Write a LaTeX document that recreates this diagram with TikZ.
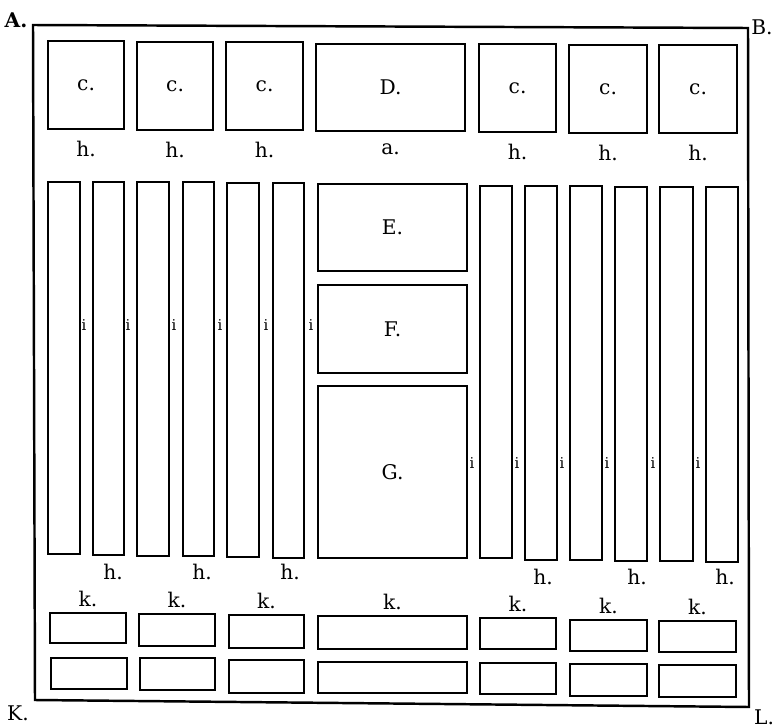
\documentclass[tikz,border=0pt]{standalone}
\usepackage{fontspec}
\setmainfont{DejaVu Serif}
\usepackage{tikz}
\usetikzlibrary{positioning}
\tikzset{
    cell/.style={rectangle, draw, line width=1.2pt, inner sep=0pt,
                 anchor=north west, font=\fontsize{11.5}{13}\selectfont},
    frame/.style={line width=1.4pt, line join=miter},
    lbl/.style={font=\fontsize{11.5}{13}\selectfont, inner sep=0pt},
    ilbl/.style={font=\fontsize{8.5}{10}\selectfont, inner sep=0pt},
}

\begin{document}
\begin{tikzpicture}[x=0.02cm, y=-0.02cm]
    \useasboundingbox (0,0) rectangle (775,727);

    % outer frame
    \coordinate (A) at (33,25);
    \coordinate (B) at (748,28);
    \coordinate (L) at (749,707);
    \coordinate (K) at (35,700);
    \draw[frame] (A) -- (B) -- (L) -- (K) -- cycle;
    \node[lbl, font=\fontsize{11.5}{13}\selectfont\bfseries] (Alab) at (16,20) {A.};
    \node[lbl] (Blab) at (762,27) {B.};
    \node[lbl] (Klab) at (18,713) {K.};
    \node[lbl] (Llab) at (764,717) {L.};

    % top row
    \foreach \n/\xa/\ya/\xb/\yb/\t in {c1/47/40/123/128/c., c2/136/41/212/129/c.,
            c3/225/41/302/129/c., d/315/43/464/130/D., c5/478/43/555/131/c.,
            c6/568/44/646/132/c., c7/658/44/736/132/c.}
        \node[cell, minimum width={(\xb-\xa)*0.02cm},
              minimum height={(\yb-\ya)*0.02cm}] (\n) at (\xa,\ya) {\t};
    \foreach \n/\t in {c1/h., c2/h., c3/h., d/a., c5/h., c6/h., c7/h.}
        \node[lbl, below=0.22cm of \n] (\n lab) {\t};

    % middle row
    \foreach \n/\xa/\ya/\xb/\yb/\t in {l1/47/181/79/553/, l2/92/181/123/554/,
            l3/136/181/168/555/, l4/182/181/213/555/, l5/226/182/258/556/,
            l6/272/182/303/557/, e/317/183/466/270/E., f/317/284/466/372/F.,
            g/317/385/466/557/G., r1/479/185/511/557/, r2/524/185/556/559/,
            r3/569/185/601/559/, r4/614/186/646/560/, r5/659/186/692/560/,
            r6/705/186/737/561/}
        \node[cell, minimum width={(\xb-\xa)*0.02cm},
              minimum height={(\yb-\ya)*0.02cm}] (\n) at (\xa,\ya) {\t};
    \foreach \k/\x in {1/84, 2/128, 3/174, 4/220, 5/266, 6/311}
        \node[ilbl] (il\k) at (\x,325) {i};
    \foreach \k/\x in {1/472, 2/517, 3/562, 4/607, 5/653, 6/698}
        \node[ilbl] (ir\k) at (\x,463) {i};
    \foreach \n/\x/\y in {l2/113/572, l4/202/572, l6/290/572,
            r2/543/577, r4/637/577, r6/725/577}
        \node[lbl] (h\n) at (\x,\y) {h.};

    % bottom rows
    \foreach \n/\xa/\ya/\xb/\yb in {k1/49/612/125/642, k2/138/613/214/645,
            k3/228/614/303/647, k4/317/615/466/648, k5/479/617/555/648,
            k6/569/619/646/650, k7/658/620/735/651,
            m1/50/657/126/688, m2/139/657/214/689, m3/228/659/303/692,
            m4/317/661/466/692, m5/479/662/555/693, m6/569/663/646/695,
            m7/658/664/735/696}
        \node[cell, minimum width={(\xb-\xa)*0.02cm},
              minimum height={(\yb-\ya)*0.02cm}] (\n) at (\xa,\ya) {};
    \foreach \n in {k1,k2,k3,k4,k5,k6,k7}
        \node[lbl, above=0.1cm of \n] (\n lab) {k.};
\end{tikzpicture}
\end{document}
